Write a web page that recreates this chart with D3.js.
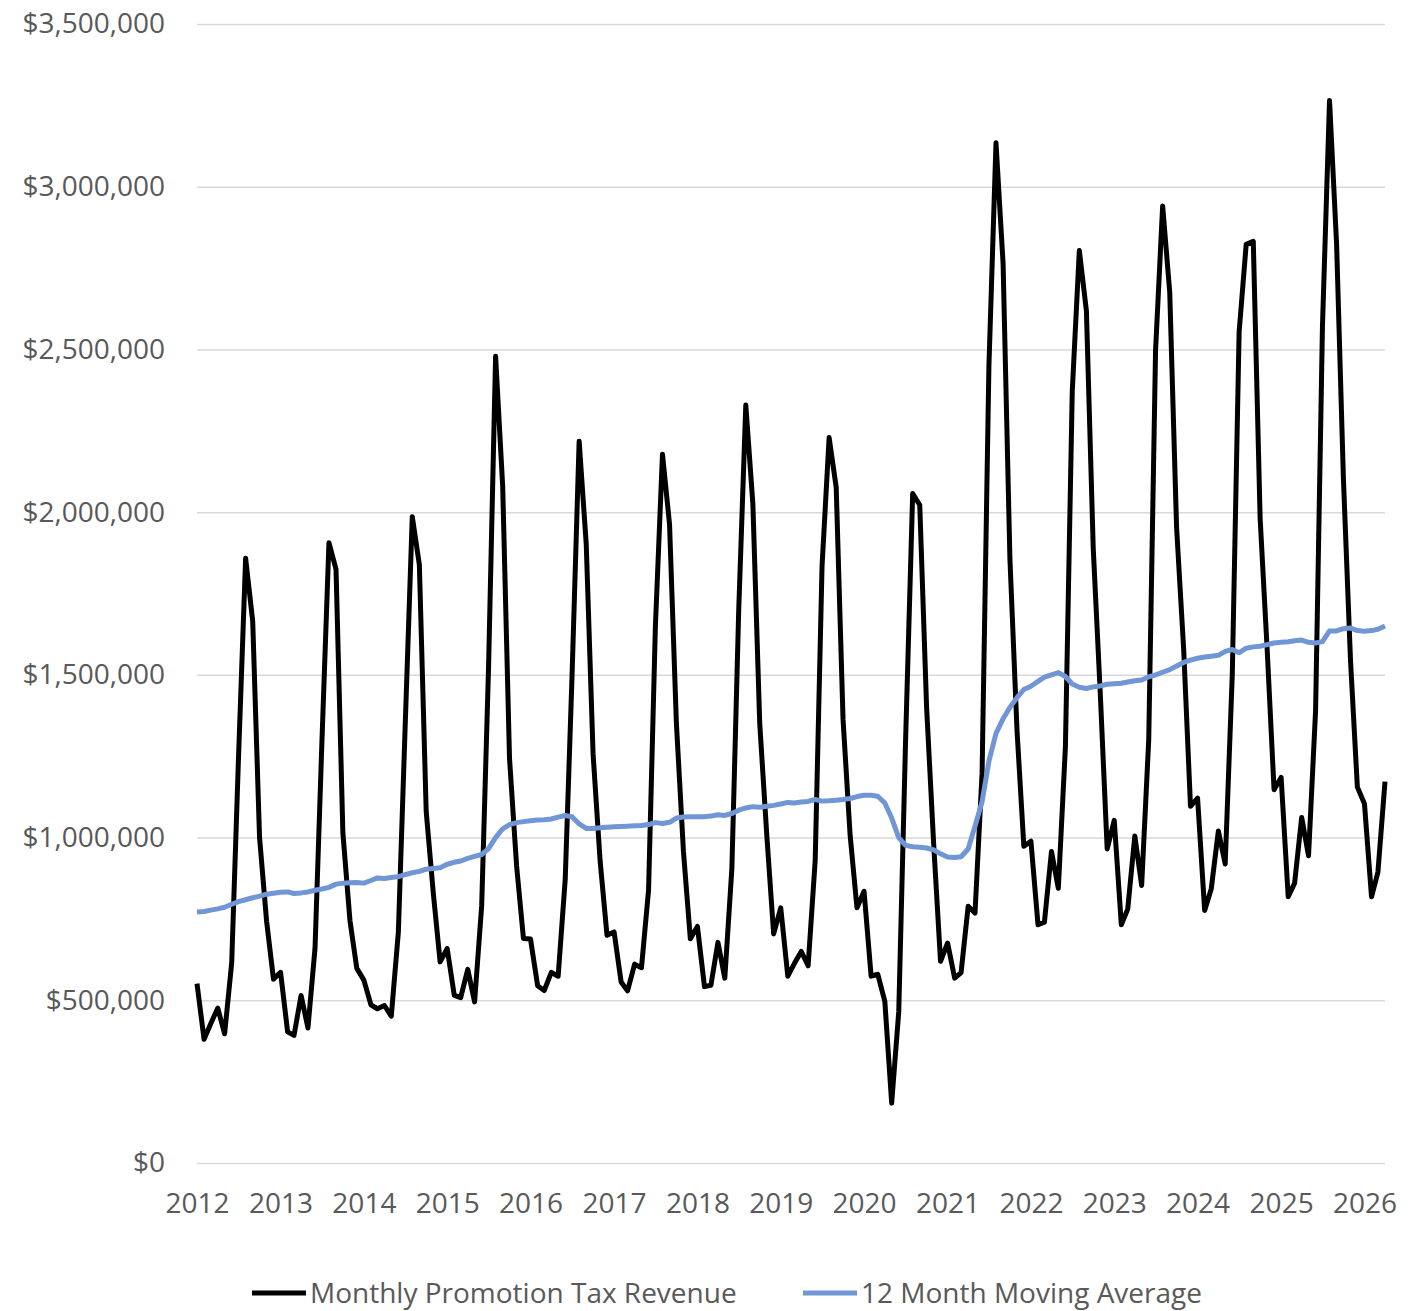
<html>
<head>
    <title>Monthly Promotion Tax Revenue</title>
    <style>
        body { margin: 0; background: #fff; }
        text { font-family: 'Open Sans', 'Liberation Sans', sans-serif; fill: #595959; }
    </style>
</head>
<body>
    <div id="grafico"></div>
    <script src="https://d3js.org/d3.v7.min.js"></script>
    <script>
        // Dados, um array por série
        const startMonth = new Date(2012, 0, 1);
        const yearTicks = [2012, 2013, 2014, 2015, 2016, 2017, 2018, 2019, 2020, 2021, 2022, 2023, 2024, 2025, 2026];
        const yTicks = [0, 500000, 1000000, 1500000, 2000000, 2500000, 3000000, 3500000];

        const revenue = [
            551000, 380000, 428000, 476000, 397000, 615000, 1250000, 1858000, 1665000, 1000000, 742000, 565000,
            586000, 403000, 392000, 515000, 415000, 660000, 1290000, 1906000, 1824000, 1015000, 745000, 598000,
            562000, 486000, 474000, 484000, 451000, 709000, 1345000, 1986000, 1839000, 1080000, 830000, 618000,
            659000, 515000, 508000, 595000, 495000, 790000, 1520000, 2479000, 2081000, 1243000, 913000, 690000,
            688000, 545000, 530000, 586000, 574000, 872000, 1500000, 2218000, 1902000, 1257000, 927000, 700000,
            710000, 556000, 529000, 611000, 600000, 838000, 1650000, 2178000, 1962000, 1351000, 956000, 689000,
            727000, 542000, 546000, 678000, 568000, 905000, 1700000, 2329000, 2025000, 1351000, 1007000, 704000,
            784000, 574000, 612000, 650000, 606000, 930000, 1834000, 2229000, 2076000, 1363000, 1007000, 784000,
            835000, 574000, 580000, 497000, 184000, 465000, 1300000, 2057000, 2022000, 1400000, 980000, 620000,
            676000, 568000, 585000, 789000, 768000, 1198000, 2450000, 3135000, 2764000, 1856000, 1330000, 973000,
            989000, 732000, 740000, 957000, 844000, 1278000, 2370000, 2804000, 2619000, 1888000, 1439000, 965000,
            1053000, 732000, 780000, 1005000, 853000, 1300000, 2499000, 2941000, 2676000, 1953000, 1580000, 1096000,
            1121000, 776000, 843000, 1020000, 919000, 1500000, 2554000, 2823000, 2832000, 1981000, 1576000, 1147000,
            1185000, 818000, 860000, 1062000, 944000, 1391000, 2570000, 3265000, 2823000, 2099000, 1543000, 1155000,
            1104000, 818000, 894000, 1172000
        ];

        const movingAvg = [
            771000, 773000, 777000, 781000, 786000, 795000, 803000, 809000, 815000, 820000, 826000, 829000,
            832000, 833000, 828000, 830000, 833000, 838000, 842000, 847000, 857000, 860000, 861000, 862000,
            860000, 868000, 876000, 874000, 877000, 880000, 886000, 892000, 896000, 903000, 905000, 907000,
            918000, 924000, 928000, 936000, 942000, 948000, 966000, 1000000, 1027000, 1040000, 1046000, 1049000,
            1052000, 1054000, 1055000, 1057000, 1063000, 1068000, 1064000, 1042000, 1028000, 1028000, 1030000, 1032000,
            1033000, 1034000, 1035000, 1036000, 1037000, 1040000, 1046000, 1043000, 1047000, 1060000, 1063000, 1064000,
            1064000, 1064000, 1066000, 1070000, 1068000, 1074000, 1084000, 1091000, 1095000, 1093000, 1096000, 1099000,
            1103000, 1108000, 1106000, 1109000, 1111000, 1117000, 1112000, 1113000, 1115000, 1117000, 1120000, 1126000,
            1130000, 1130000, 1127000, 1106000, 1060000, 1000000, 976000, 972000, 970000, 968000, 962000, 950000,
            940000, 939000, 941000, 965000, 1035000, 1110000, 1235000, 1320000, 1365000, 1400000, 1430000, 1455000,
            1465000, 1480000, 1493000, 1500000, 1507000, 1495000, 1472000, 1462000, 1458000, 1463000, 1466000, 1471000,
            1473000, 1474000, 1478000, 1482000, 1484000, 1494000, 1500000, 1508000, 1516000, 1527000, 1538000, 1545000,
            1551000, 1555000, 1557000, 1560000, 1572000, 1578000, 1568000, 1582000, 1586000, 1588000, 1593000, 1598000,
            1600000, 1602000, 1605000, 1607000, 1600000, 1598000, 1602000, 1635000, 1635000, 1642000, 1644000, 1636000,
            1634000, 1636000, 1640000, 1650000
        ];

        const months = d3.timeMonth.range(startMonth, d3.timeMonth.offset(startMonth, revenue.length));

        const W = 1409, H = 1311;
        const plotLeft = 197, plotRight = 1385, plotTop = 24, plotBottom = 1163;

        const svg = d3.select("#grafico")
            .append("svg")
            .attr("width", W)
            .attr("height", H);

        // Escalas
        const x = d3.scaleTime()
            .domain([months[0], months[months.length - 1]])
            .range([plotLeft, plotRight]);

        const y = d3.scaleLinear()
            .domain([0, 3500000])
            .range([plotBottom, plotTop]);

        // Linhas de grade + eixo Y
        const yAxis = svg.append("g")
            .attr("transform", `translate(${plotLeft},0)`)
            .call(d3.axisLeft(y).tickValues(yTicks).tickSize(-(plotRight - plotLeft)).tickPadding(32).tickFormat(d3.format("$,")));
        yAxis.select(".domain").remove();
        yAxis.selectAll(".tick line").attr("stroke", "#d9d9d9").attr("stroke-width", 1.5);
        yAxis.selectAll(".tick text")
            .style("font-size", "28px")
            .style("fill", "#595959");

        // Eixo X (anos)
        const xAxis = svg.append("g")
            .attr("transform", `translate(0,${plotBottom})`)
            .call(d3.axisBottom(x).tickValues(yearTicks.map(yr => new Date(yr, 0, 1))).tickSize(0).tickPadding(30).tickFormat(d3.timeFormat("%Y")));
        xAxis.select(".domain").remove();
        xAxis.selectAll(".tick text")
            .style("font-size", "28px")
            .style("fill", "#595959");

        // Séries
        const line = d3.line()
            .x((d, i) => x(months[i]))
            .y(d => y(d));

        svg.append("path")
            .datum(revenue)
            .attr("fill", "none")
            .attr("stroke", "#000")
            .attr("stroke-width", 5)
            .attr("stroke-linejoin", "round")
            .attr("d", line);

        svg.append("path")
            .datum(movingAvg)
            .attr("fill", "none")
            .attr("stroke", "#7096d6")
            .attr("stroke-width", 5)
            .attr("stroke-linejoin", "round")
            .attr("d", line);

        // Legenda
        const legend = [
            { label: "Monthly Promotion Tax Revenue", color: "#000", x: 252 },
            { label: "12 Month Moving Average", color: "#7096d6", x: 803 }
        ];
        const lg = svg.append("g").selectAll("g").data(legend).join("g")
            .attr("transform", d => `translate(${d.x},1293)`);
        lg.append("line")
            .attr("x1", 0).attr("x2", 54)
            .attr("stroke", d => d.color)
            .attr("stroke-width", 5);
        lg.append("text")
            .attr("x", 58)
            .attr("dy", "0.36em")
            .style("font-size", "28px")
            .text(d => d.label);
    </script>
</body>
</html>
